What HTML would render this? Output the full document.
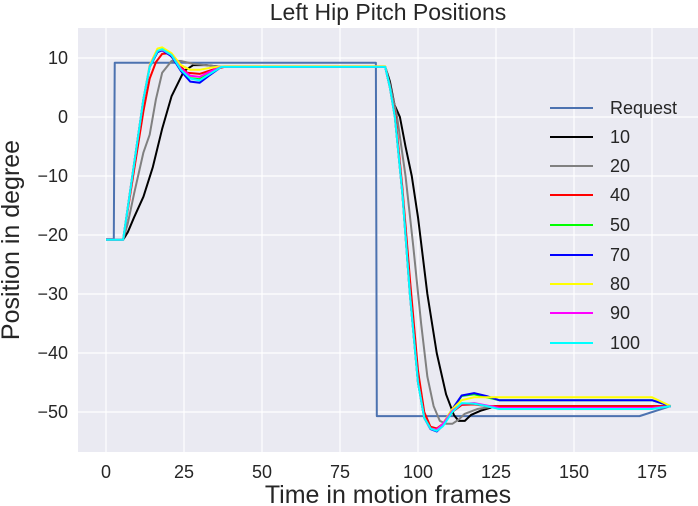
<!DOCTYPE html>
<html><head><meta charset="utf-8"><style>
body{margin:0;background:#fff;}
svg{display:block;font-family:"Liberation Sans",Arial,sans-serif;}
.s{fill:none;stroke-width:2;vector-effect:non-scaling-stroke;stroke-linejoin:round}
</style></head><body>
<svg width="698" height="506" viewBox="0 0 698 506">
<rect x="78" y="28" width="620" height="424" fill="#eaeaf2"/>
<g stroke="#fff" stroke-width="1.2">
<line x1="106" y1="28" x2="106" y2="452"/><line x1="184" y1="28" x2="184" y2="452"/><line x1="262" y1="28" x2="262" y2="452"/><line x1="340" y1="28" x2="340" y2="452"/><line x1="418" y1="28" x2="418" y2="452"/><line x1="496" y1="28" x2="496" y2="452"/><line x1="574" y1="28" x2="574" y2="452"/><line x1="652" y1="28" x2="652" y2="452"/>
<line x1="78" y1="58" x2="698" y2="58"/><line x1="78" y1="117" x2="698" y2="117"/><line x1="78" y1="176" x2="698" y2="176"/><line x1="78" y1="235" x2="698" y2="235"/><line x1="78" y1="294" x2="698" y2="294"/><line x1="78" y1="353" x2="698" y2="353"/><line x1="78" y1="412" x2="698" y2="412"/>
</g>
<g transform="translate(106,117) scale(3.12,-5.9)">
<polyline class="s" stroke="#4c72b0" points="0,-20.7 2.5,-20.7 2.8,9.2 86.5,9.2 86.8,-50.7 171,-50.7 181,-49"/>
<polyline class="s" stroke="#000" points="0,-20.8 5.5,-20.8 7,-19.5 9,-17 12,-13.5 15,-8.5 18,-2 21,3.5 25,7.8 28,8.8 32,8.8 37,8.5 89.5,8.5 91,6 92.5,2 94.2,0 96,-5 98,-10 100,-17 103,-30 106,-40 109,-47 111.5,-50.5 113,-51.5 115,-51.5 117,-50.5 120,-49.8 125,-49 175,-49 181,-49"/>
<polyline class="s" stroke="#808080" points="0,-20.8 5.5,-20.8 7,-18 9,-13 12,-6 14,-3 16,3 18,7.5 21,9.5 24,9.5 28,9 37,8.5 89.5,8.5 91,5.5 93.3,0 96,-10 98.5,-22 101,-35 103,-44 105,-49 107,-51.5 109,-52 111,-52 113,-51.3 115,-50.3 119,-49.5 125,-49 175,-49 181,-49"/>
<polyline class="s" stroke="#f00" points="0,-20.8 5.5,-20.8 9,-9 12,1 14,6.5 16,9.3 18,10.7 20,10.8 23,9 26,7.5 30,7.3 34,8 38,8.5 89.5,8.5 91,5 92.8,0 95,-12 97.5,-28 100,-43 102,-50 104,-52.5 106,-52.8 108,-52 111,-50 114,-48.8 118,-48.7 122,-49 126,-49 175,-49 181,-49"/>
<polyline class="s" stroke="#0f0" points="0,-20.8 5.5,-20.8 9,-8 12,3 14,8.5 16.5,11 18,11.3 21,10.5 24,8 27,6.6 30,6.4 33,7.4 37,8.5 89.5,8.5 91,5 92.6,0 95,-13 97.4,-30 100,-45 102,-51 104,-52.8 106,-53.1 108,-52 111,-49.5 114,-47.3 118,-47 122,-47.5 126,-48 175,-48 181,-49"/>
<polyline class="s" stroke="#00f" points="0,-20.8 5.5,-20.8 9,-8 12,3 14,8.5 16.5,11 18,11.3 21,10.3 24,7.8 27,6 30,5.8 33,7 37,8.5 89.5,8.5 91,5 92.6,0 95,-13 97.4,-30 100,-45 102,-51 104,-52.9 106,-53.3 108,-52.3 111,-49.5 114,-47.2 118,-46.8 122,-47.3 126,-48 175,-48 181,-49"/>
<polyline class="s" stroke="#ff0" points="0,-20.8 5.5,-20.8 9,-8 12,3 14,8.8 16.5,11.6 18,11.8 21,10.8 24,8.8 27,8 30,8 34,8.4 38,8.6 89.5,8.6 91,5 92.6,0 95,-13 97.4,-30 100,-45 102,-51 104,-52.8 106,-53 108,-52 111,-49.5 114,-48 118,-47.5 126,-47.5 175,-47.5 181,-49"/>
<polyline class="s" stroke="#f0f" points="0,-20.8 5.5,-20.8 9,-8 12,3 14,8.6 16.5,11.2 18,11.4 21,10.5 24,8.2 27,7 30,6.8 33,7.6 37,8.5 89.5,8.5 91,5 92.6,0 95,-13 97.4,-30 100,-45 102,-51 104,-52.8 106,-53 108,-52 111,-49.8 114,-48.6 118,-48.5 122,-48.9 126,-49.3 175,-49.3 181,-49"/>
<polyline class="s" stroke="#0ff" points="0,-20.8 5.5,-20.8 9,-8 12,3 14,8.5 16.5,11.2 18,11.5 21,10.5 24,8 27,6.5 30,6.2 33,7.2 37,8.5 89.5,8.5 91,5 92.6,0 95,-13 97.4,-30 100,-45 102,-51 104,-52.8 106,-53.2 108,-52.4 111,-50 114,-48.5 118,-48.6 122,-49 126,-49.5 175,-49.5 181,-49"/>
</g>
<g fill="#262626" font-size="18">
<g text-anchor="middle">
<text x="106" y="478">0</text><text x="184" y="478">25</text><text x="262" y="478">50</text><text x="340" y="478">75</text><text x="418" y="478">100</text><text x="496" y="478">125</text><text x="574" y="478">150</text><text x="652" y="478">175</text>
</g>
<g text-anchor="end">
<text x="68" y="64">10</text><text x="68" y="123">0</text><text x="68" y="182">−10</text><text x="68" y="241">−20</text><text x="68" y="300">−30</text><text x="68" y="359">−40</text><text x="68" y="418">−50</text>
</g>
<text x="388" y="503" text-anchor="middle" font-size="25">Time in motion frames</text>
<text transform="translate(19,240) rotate(-90)" text-anchor="middle" font-size="25">Position in degree</text>
<text x="388" y="20" text-anchor="middle" font-size="23">Left Hip Pitch Positions</text>
</g>
<g stroke-width="2">
<line x1="550" y1="108" x2="593" y2="108" stroke="#4c72b0"/>
<line x1="550" y1="137" x2="593" y2="137" stroke="#000"/>
<line x1="550" y1="166" x2="593" y2="166" stroke="#808080"/>
<line x1="550" y1="195" x2="593" y2="195" stroke="#f00"/>
<line x1="550" y1="225" x2="593" y2="225" stroke="#0f0"/>
<line x1="550" y1="255" x2="593" y2="255" stroke="#00f"/>
<line x1="550" y1="284" x2="593" y2="284" stroke="#ff0"/>
<line x1="550" y1="313" x2="593" y2="313" stroke="#f0f"/>
<line x1="550" y1="343" x2="593" y2="343" stroke="#0ff"/>
</g>
<g fill="#262626" font-size="18">
<text x="610" y="114">Request</text><text x="610" y="143">10</text><text x="610" y="172">20</text><text x="610" y="201">40</text><text x="610" y="231">50</text><text x="610" y="261">70</text><text x="610" y="290">80</text><text x="610" y="319">90</text><text x="610" y="349">100</text>
</g>
</svg>
</body></html>
